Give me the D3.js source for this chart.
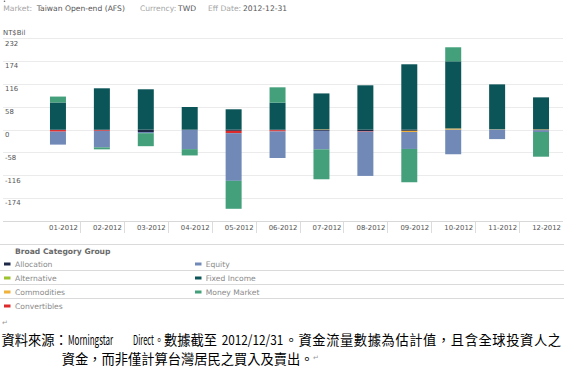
<!DOCTYPE html>
<html><head><meta charset="utf-8">
<script src="https://cdn.jsdelivr.net/npm/d3@7"></script>
<style>
html,body{margin:0;padding:0;background:#fff;}
svg{display:block;}
</style></head>
<body>
<svg id="c" width="571" height="368"></svg>
<script>
// ---- data ----
const months = ["01-2012","02-2012","03-2012","04-2012","05-2012","06-2012","07-2012","08-2012","09-2012","10-2012","11-2012","12-2012"];
const seriesNames = ["Allocation","Alternative","Commodities","Convertibles","Equity","Fixed Income","Money Market"];
const allocation   = [-1,  -1, -6, -0.5, -3, -1.5, -3, -3.5, -3, -0.5,  0, -2];
const alternative  = [ 0,   0,  0,  0,    0,  0,    0,  0,    0,  0,    0,  0];
const commodities  = [ 0,   0,  0,  0,    0,  0,    1,  0,   -3,  3,    1,  1];
const convertibles = [-4,  -2,  0,  0,   -6, -3,    0, -1.5,  0,  0,    0,  0];
const equity       = [-33, -42, -3, -49, -121, -67.5, -47, -112.5, -43, -62, -24, -4];
const fixedIncome  = [69, 105, 102.5, 57.5, 51.7, 68.5, 91, 112.6, 166, 170.6, 114, 81];
const moneyMarket  = [15,  -5, -33, -16, -71, 39, -76, 0, -84.6, 35.6, 0, -62.7];
const yTicks = [-174,-116,-58,0,58,116,174,232];
const yMin = -232, yMax = 232;
const colors = ["#1c2846","#9cc22e","#f0b23a","#dd2a2a","#7089b7","#0b5457","#43a07b"];
const legendLeft = ["Allocation","Alternative","Commodities","Convertibles"];
const legendRight = ["Equity","Fixed Income","Money Market"];

const seriesVals = [allocation, alternative, commodities, convertibles, equity, fixedIncome, moneyMarket];
const table = months.map((m,i)=>{
  const o = {month:m};
  seriesNames.forEach((s,k)=>o[s]=seriesVals[k][i]);
  return o;
});

const svg = d3.select("#c");
const FONT = "'DejaVu Sans', Verdana, sans-serif";

// header
[["Market:",3.3,"#a5a5a5"],["Taiwan Open-end (AFS)",36.7,"#555"],["Currency:",140,"#a5a5a5"],["TWD",178,"#555"],["Eff Date:",208,"#a5a5a5"],["2012-12-31",243,"#555"]]
 .forEach(([t,xx,c])=>svg.append("text").attr("x",xx).attr("y",10.5).attr("font-family",FONT).attr("font-size",7.6).attr("fill",c).text(t));
svg.append("circle").attr("cx",4.5).attr("cy",1.3).attr("r",0.8).attr("fill","#666");

svg.append("text").attr("x",3).attr("y",34.5).attr("font-family",FONT).attr("font-size",6.9).attr("fill","#555").text("NT$Bil");

// scales
const x = d3.scaleBand().domain(months).range([36,563]).paddingInner(0.636).paddingOuter(0.318);
const y = d3.scaleLinear().domain([yMin,yMax]).range([221,38.3]);

// grid
const g = svg.append("g");
g.selectAll("line.grid").data(yTicks).join("line")
  .attr("x1",3).attr("x2",563).attr("y1",d=>Math.round(y(d))+0.5).attr("y2",d=>Math.round(y(d))+0.5)
  .attr("stroke","#ebebeb").attr("stroke-width",1);
g.selectAll("text.yl").data(yTicks).join("text")
  .attr("x",5).attr("y",d=>y(d)+7.2).attr("font-family",FONT).attr("font-size",6.9).attr("fill","#555")
  .text(d=>d);

// bars
const stack = d3.stack().keys(seriesNames).offset(d3.stackOffsetDiverging);
const layers = stack(table);
svg.append("g").selectAll("g").data(layers).join("g")
  .attr("fill",(d,i)=>colors[i])
  .selectAll("rect").data(d=>d).join("rect")
  .attr("x",d=>x(d.data.month)).attr("width",x.bandwidth())
  .attr("y",d=>y(Math.max(d[0],d[1]))).attr("height",d=>Math.abs(y(d[0])-y(d[1])));

// bottom axis
const xa = svg.append("g").attr("transform","translate(0,221)");
xa.append("line").attr("x1",3).attr("x2",563).attr("y1",0.5).attr("y2",0.5).attr("stroke","#d8d8d8");
const step = x.step();
const bandStart = 36;
xa.selectAll("line.sep").data(months.slice(0,-1)).join("line")
  .attr("x1",(d,i)=>Math.round(bandStart+step*(i+1))+0.5).attr("x2",(d,i)=>Math.round(bandStart+step*(i+1))+0.5)
  .attr("y1",1).attr("y2",12).attr("stroke","#dcdcdc");
xa.selectAll("text").data(months).join("text")
  .attr("x",(d,i)=>bandStart+step*(i+1)-2).attr("y",9).attr("text-anchor","end")
  .attr("font-family",FONT).attr("font-size",6.9).attr("fill","#555").text(d=>d);

// legend
const lg = svg.append("g");
[243.7,270.3,284.3,298.3].forEach(yy=>lg.append("line").attr("x1",0).attr("x2",564).attr("y1",Math.round(yy)+0.5).attr("y2",Math.round(yy)+0.5).attr("stroke","#dadada"));
lg.append("text").attr("x",15).attr("y",254).attr("font-family",FONT).attr("font-size",7.6).attr("font-weight","bold").attr("fill","#6a6a6a").text("Broad Category Group");
const rowY = [264,278,292,306];
legendLeft.forEach((s,i)=>{
  const k = seriesNames.indexOf(s);
  lg.append("rect").attr("x",4).attr("y",rowY[i]-1.5).attr("width",6.5).attr("height",3).attr("fill",colors[k]);
  lg.append("text").attr("x",15).attr("y",rowY[i]+2.8).attr("font-family",FONT).attr("font-size",7.6).attr("fill","#8a8a8a").text(s);
});
legendRight.forEach((s,i)=>{
  const k = seriesNames.indexOf(s);
  lg.append("rect").attr("x",195).attr("y",rowY[i]-1.5).attr("width",6.5).attr("height",3).attr("fill",colors[k]);
  lg.append("text").attr("x",205.7).attr("y",rowY[i]+2.8).attr("font-family",FONT).attr("font-size",7.6).attr("fill","#8a8a8a").text(s);
});

// footer
const CJK = "'Noto Sans CJK TC', 'Noto Sans CJK SC', sans-serif";
const L1 = 344.8, L2 = 364.2;
svg.append("text").attr("x",2).attr("y",325).attr("font-family",FONT).attr("font-size",7).attr("fill","#999").text("↵");
function seg(t, xx, yy, target){
  const e = svg.append("text").attr("font-family",CJK).attr("font-size",13.25).attr("fill","#000").text(t);
  let sx = 1;
  if(target){ const w = e.node().getComputedTextLength(); if(w>0) sx = target/w; }
  e.attr("transform",`translate(${xx},${yy}) scale(${sx},1)`);
  return e;
}
seg("資料來源：",1.5,L1);
seg("Morningstar",68,L1,45.3);
seg("Direct",133,L1,21);
seg("。",154.6,L1,9.2);
seg("數據截至",164,L1);
seg("2012/12/31",221.7,L1,61.6);
svg.append("text").attr("x",284.6).attr("y",L1).attr("font-family",CJK).attr("font-size",13.25).attr("fill","#000")
  .attr("textLength",276.4).attr("lengthAdjust","spacing").text("。資金流量數據為估計值，且含全球投資人之");
seg("資金，而非僅計算台灣居民之買入及賣出。",61.7,L2);
svg.append("text").attr("x",313).attr("y",360).attr("font-family",FONT).attr("font-size",7).attr("fill","#999").text("↵");
</script>
</body></html>
